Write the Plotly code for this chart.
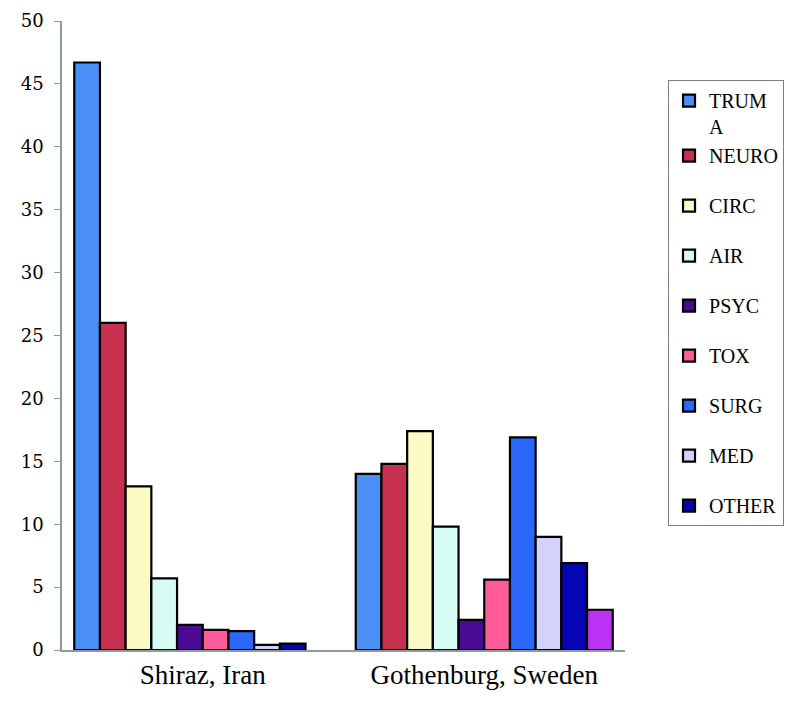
import plotly.graph_objects as go

sites = ["Shiraz, Iran", "Gothenburg, Sweden"]

# percentages per category (Shiraz, Gothenburg)
truma = [46.7, 14.0]
neuro = [26.0, 14.8]
circ = [13.0, 17.4]
air = [5.7, 9.8]
psyc = [2.0, 2.4]
tox = [1.6, 5.6]
surg = [1.5, 16.9]
med = [0.4, 9.0]
other = [0.5, 6.9]
extra = [None, 3.2]  # unlabelled tenth series (only in Gothenburg)

series = [
    ("TRUM<br>A", truma, "#4a8ff5"),
    ("NEURO", neuro, "#c8304f"),
    ("CIRC", circ, "#fafac4"),
    ("AIR", air, "#d6fcf4"),
    ("PSYC", psyc, "#4b0a94"),
    ("TOX", tox, "#ff5c99"),
    ("SURG", surg, "#2b67f8"),
    ("MED", med, "#d2d2fa"),
    ("OTHER", other, "#0505b4"),
]

SERIF = "Liberation Serif"

fig = go.Figure()
for i, (name, vals, col) in enumerate(series):
    # first two share a group so the wrapped "A" doesn't add a gap
    grp = "g0" if i < 2 else "g%d" % i
    fig.add_trace(go.Bar(
        x=sites, y=vals, name=name, legendgroup=grp,
        marker=dict(color=col, line=dict(color="black", width=2.2)),
    ))
fig.add_trace(go.Bar(
    x=sites, y=extra, name="", showlegend=False,
    marker=dict(color="#bb33f5", line=dict(color="black", width=2.2)),
))

# page body has an 8px margin, so the figure is a bit smaller than the window
fig.update_layout(
    width=786, height=698,
    margin=dict(l=54, r=169, t=13, b=56, autoexpand=False),
    paper_bgcolor="white", plot_bgcolor="white",
    barmode="group", bargap=0.087, bargroupgap=0,
    legend=dict(
        x=1.0764, y=0.906, xanchor="left", yanchor="top",
        font=dict(family=SERIF, size=20, color="black"),
        bordercolor="#7f7f7f", borderwidth=1, bgcolor="white",
        tracegroupgap=21, valign="top", itemwidth=30,
    ),
    xaxis=dict(
        showline=True, linecolor="#8c9c9c", linewidth=1.5, automargin=False,
        ticks="", tickfont=dict(family=SERIF, size=27, color="black"),
        showgrid=False,
    ),
    yaxis=dict(
        range=[0, 50], dtick=5, showgrid=False, zeroline=False, automargin=False,
        showline=True, linecolor="#8c9c9c", linewidth=1.5,
        ticks="outside", ticklen=6, tickcolor="#8c9c9c", ticklabelstandoff=7,
        tickfont=dict(family="DejaVu Serif", size=18, color="black"),
    ),
)

fig.write_html("out.html")
